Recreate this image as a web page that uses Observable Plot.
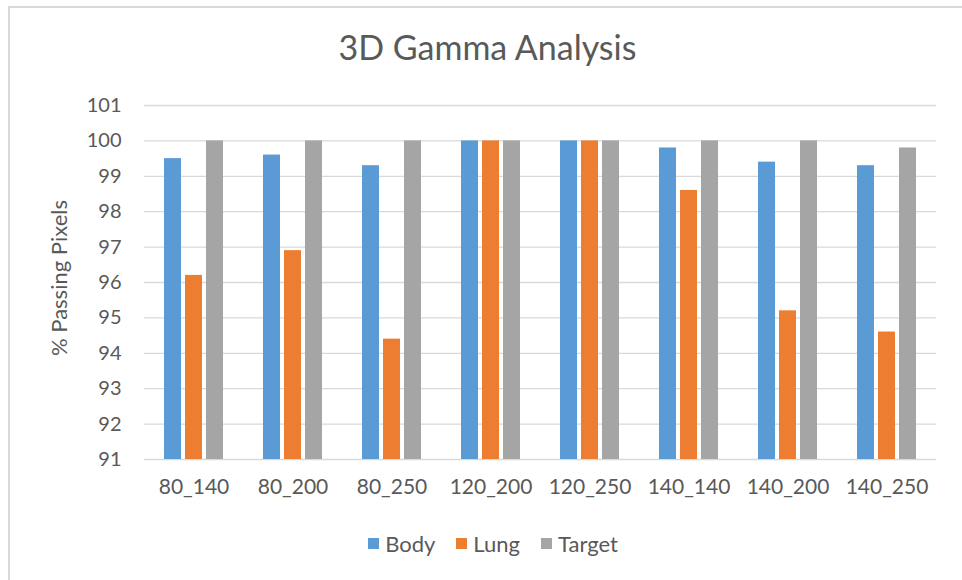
<!DOCTYPE html>
<html>
<head>
<meta charset="utf-8">
<script src="https://cdn.jsdelivr.net/npm/d3@7"></script>
<script src="https://cdn.jsdelivr.net/npm/@observablehq/plot@0.6"></script>
<style>
  html, body { margin: 0; padding: 0; background: #fff; }
  #wrap { position: relative; width: 962px; height: 580px; overflow: hidden; font-family: Lato, "Open Sans", sans-serif; color: #595959; }
  #frame { position: absolute; left: 8px; top: 6px; width: 970px; height: 590px; border-left: 2px solid #d9d9d9; border-top: 2px solid #d9d9d9; box-sizing: border-box; }
  #title { position: absolute; left: 0; width: 975px; top: 26px; text-align: center; font-size: 34px; }
  #ylabel { position: absolute; left: 58px; top: 278px; transform: translate(-50%, -50%) rotate(-90deg); font-size: 22px; white-space: nowrap; }
  #chart { position: absolute; left: 0; top: 0; }
  #legend { position: absolute; top: 530px; left: 0; width: 986px; display: flex; justify-content: center; gap: 21px; font-size: 22px; }
  .item { display: flex; align-items: center; gap: 6px; }
  .sw { width: 11px; height: 11px; display: inline-block; }
</style>
</head>
<body>
<div id="wrap">
  <div id="frame"></div>
  <div id="title">3D Gamma Analysis</div>
  <div id="ylabel">% Passing Pixels</div>
  <div id="chart"></div>
  <div id="legend"></div>
</div>
<script>
const categories = ["80_140", "80_200", "80_250", "120_200", "120_250", "140_140", "140_200", "140_250"];
const seriesNames = ["Body", "Lung", "Target"];
const bodyValues   = [99.5, 99.6, 99.3, 100, 100, 99.8, 99.4, 99.3];
const lungValues   = [96.2, 96.9, 94.4, 100, 100, 98.6, 95.2, 94.6];
const targetValues = [100, 100, 100, 100, 100, 100, 100, 99.8];
const yTicks = [91, 92, 93, 94, 95, 96, 97, 98, 99, 100, 101];
const seriesColors = ["#5B9BD5", "#ED7D31", "#A5A5A5"];

const seriesValues = [bodyValues, lungValues, targetValues];
const data = [];
categories.forEach((c, i) => {
  seriesNames.forEach((s, j) => {
    data.push({cat: c, series: s, value: seriesValues[j][i]});
  });
});

const chart = Plot.plot({
  width: 962,
  height: 520,
  marginLeft: 141,
  marginRight: 23,
  marginTop: 105,
  marginBottom: 61,
  style: {fontFamily: "Lato, 'Open Sans', sans-serif", fontSize: "20px", color: "#595959", background: "transparent", overflow: "visible"},
  fx: {domain: categories, padding: 0, label: null},
  x: {domain: seriesNames, paddingInner: 0.2, paddingOuter: 0.855, axis: null},
  y: {domain: [yTicks[0], yTicks[yTicks.length - 1]], ticks: yTicks, tickSize: 0, tickPadding: 23, label: null},
  color: {domain: seriesNames, range: seriesColors},
  marks: [
    Plot.gridY(yTicks, {stroke: "#d9d9d9", strokeOpacity: 1, strokeWidth: 1.3}),
    Plot.barY(data, {fx: "cat", x: "series", y1: yTicks[0], y2: "value", fill: "series"}),
    Plot.axisFx({anchor: "bottom", tickSize: 0, tickPadding: 20, fontSize: 21, label: null})
  ]
});
chart.style.overflow = "visible";
document.getElementById("chart").appendChild(chart);

const legend = document.getElementById("legend");
seriesNames.forEach((s, i) => {
  const it = document.createElement("div");
  it.className = "item";
  const sw = document.createElement("span");
  sw.className = "sw";
  sw.style.background = seriesColors[i];
  const t = document.createElement("span");
  t.textContent = s;
  it.appendChild(sw);
  it.appendChild(t);
  legend.appendChild(it);
});
</script>
</body>
</html>
